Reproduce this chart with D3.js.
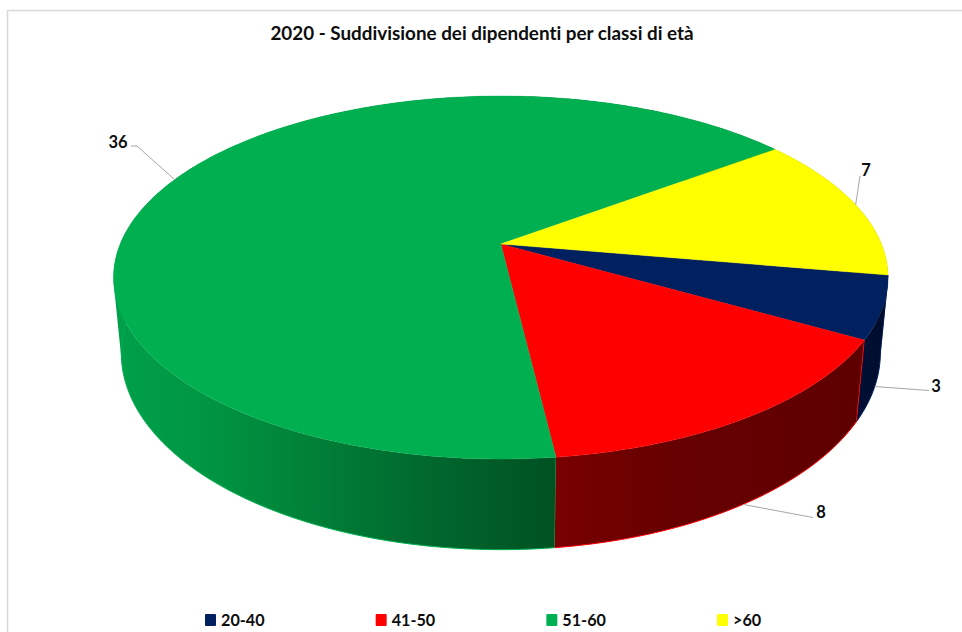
<!DOCTYPE html>
<html><head><meta charset="utf-8">
<script src="https://cdn.jsdelivr.net/npm/d3@7"></script>
<style>html,body{margin:0;padding:0;background:#fff}svg{display:block}text{font-family:Lato,"Open Sans",sans-serif;font-weight:700;fill:#0d0d0d;font-variant-ligatures:none}</style>
</head><body><svg id="c" width="962" height="632"></svg>
<script>
const categories = ["20-40", "41-50", "51-60", ">60"];
const values = [3, 8, 36, 7];
const colors = ["#002060", "#ff0000", "#00b050", "#ffff00"];
const chartTitle = "2020 - Suddivisione dei dipendenti per classi di età";

const W = 962, H = 632;
const svg = d3.select("#c");

// projective view of the pie disc
const ax = 500.8, ay = 244, A = 380.6, B = 175.3, k = 0.1846;
const startDeg = 99.86;
const vanish = [501, 4100];
const project = a => {
  const u = Math.sin(a), v = -Math.cos(a), s = 1 / (1 - k * v);
  return [ax + A * u * s, ay + B * v * s];
};
const drop = p => {
  const t = 0.02173 + 2.69e-5 * (p[1] - 341);
  return [p[0] + t * (vanish[0] - p[0]), p[1] + t * (vanish[1] - p[1])];
};
const line = d3.line();
const pie = d3.pie().sort(null).startAngle(startDeg * Math.PI / 180).endAngle((startDeg + 360) * Math.PI / 180);
const arcs = pie(values);
const samples = d => {
  const n = Math.ceil((d.endAngle - d.startAngle) * 60);
  return d3.range(n + 1).map(i => d.startAngle + (d.endAngle - d.startAngle) * i / n);
};

// wall shading, one horizontal gradient per slice, spanning its front part
const wallStops = [
  [["0", "#000f33"], ["1", "#000b28"]],
  [["0", "#780000"], ["0.4", "#660000"], ["1", "#5e0000"]],
  [["0", "#00a04a"], ["0.2", "#009642"], ["0.45", "#008038"], ["0.7", "#00692e"], ["1", "#005122"]],
  [["0", "#8a8a00"], ["1", "#8a8a00"]]
];
const defs = svg.append("defs");
arcs.forEach((d, i) => {
  const pts = samples(d).map(project);
  const front = pts.filter(p => p[1] > ay);
  const ext = d3.extent(front.length ? front : pts, p => p[0]);
  const g = defs.append("linearGradient").attr("id", "w" + i)
    .attr("gradientUnits", "userSpaceOnUse")
    .attr("x1", ext[0]).attr("x2", ext[1]).attr("y1", 0).attr("y2", 0);
  wallStops[i].forEach(s => g.append("stop").attr("offset", s[0]).attr("stop-color", s[1]));
});

// chart frame
svg.append("path").attr("d", line([[7.5, H], [7.5, 10.5], [W, 10.5]]))
  .attr("fill", "none").attr("stroke", "#d9d9d9").attr("stroke-width", 1.5);

// walls, back to front: union of small quads so the silhouette is swept correctly
const wallOrder = [3, 0, 2, 1];
wallOrder.forEach(i => {
  const d = arcs[i];
  const top = samples(d).map(project);
  const bot = top.map(drop);
  const quads = d3.range(top.length - 1).map(j => {
    const q = [top[j], top[j + 1], bot[j + 1], bot[j]];
    if (d3.polygonArea(q) < 0) q.reverse();
    return line(q) + "Z";
  }).join("");
  svg.append("path").attr("d", quads).attr("fill", `url(#w${i})`);
  svg.append("path").attr("d", line(bot)).attr("fill", "none")
    .attr("stroke", colors[i]).attr("stroke-width", 1);
  svg.append("path").attr("d", line([top[0], bot[0]])).attr("fill", "none")
    .attr("stroke", colors[i]).attr("stroke-width", 0.8);
});

// top face
arcs.forEach((d, i) => {
  const rim = samples(d).map(project);
  svg.append("path").attr("d", line([[ax, ay]].concat(rim)) + "Z")
    .attr("fill", colors[i]).attr("stroke", colors[i]).attr("stroke-width", 0.4);
});

// title
svg.append("text").attr("x", 482).attr("y", 39.5).attr("text-anchor", "middle")
  .attr("font-size", 18.85).text(chartTitle);

// data labels with leaders
const labelLayout = [
  { face: "bottom", elbow: [929, 390.5], text: [936, 391.5] },
  { face: "bottom", elbow: [813, 517.5], text: [821, 518] },
  { face: "top", elbow: [137, 146], text: [118, 147.5] },
  { face: "top", elbow: [860, 176], text: [866, 175.5] }
];
arcs.forEach((d, i) => {
  const mid = (d.startAngle + d.endAngle) / 2;
  const t = project(mid), b = drop(t), L = labelLayout[i];
  const from = L.face === "top" ? t : b;
  const pts = i === 2 ? [from, L.elbow, [L.elbow[0] - 6, L.elbow[1]]] : [from, L.elbow];
  svg.append("path").attr("d", line(pts)).attr("fill", "none")
    .attr("stroke", "#a6a6a6").attr("stroke-width", 1);
  svg.append("text").attr("x", L.text[0]).attr("y", L.text[1]).attr("text-anchor", "middle")
    .attr("font-size", 16.5).text(values[i]);
});

// legend
const legendX = d3.scalePoint().domain(categories).range([205, 717]);
categories.forEach((c, i) => {
  const x = legendX(c);
  svg.append("rect").attr("x", x).attr("y", 614).attr("width", 11).attr("height", 12).attr("rx", 1)
    .attr("fill", colors[i]);
  svg.append("text").attr("x", x + 16).attr("y", 626).attr("font-size", 16.2).text(c);
});
</script></body></html>
